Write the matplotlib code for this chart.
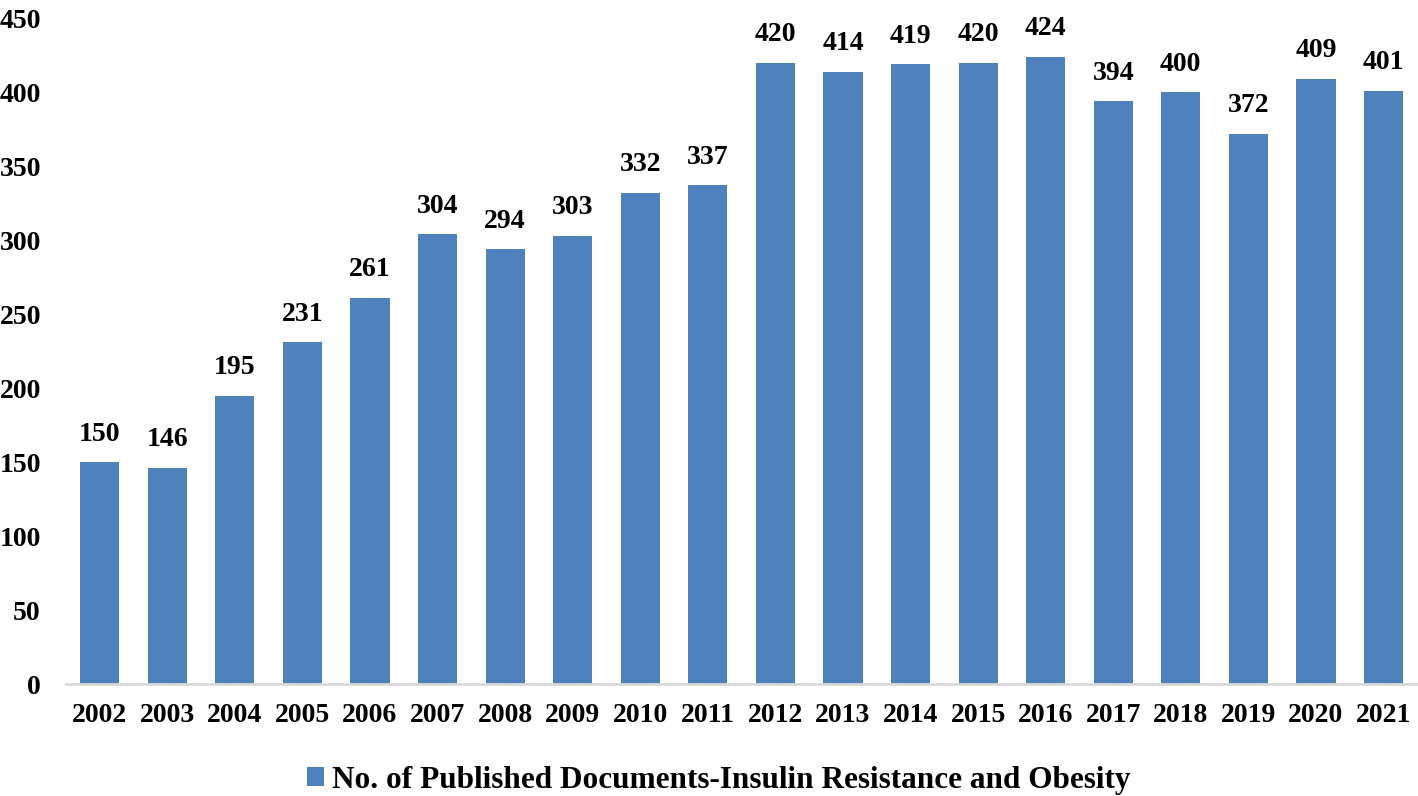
import matplotlib.pyplot as plt

years = ['2002', '2003', '2004', '2005', '2006', '2007', '2008', '2009', '2010', '2011',
         '2012', '2013', '2014', '2015', '2016', '2017', '2018', '2019', '2020', '2021']
documents = [150, 146, 195, 231, 261, 304, 294, 303, 332, 337,
             420, 414, 419, 420, 424, 394, 400, 372, 409, 401]
series_name = 'No. of Published Documents-Insulin Resistance and Obesity'

plt.rcParams['font.family'] = ['Liberation Serif', 'DejaVu Serif']
plt.rcParams['font.weight'] = 'bold'

fig = plt.figure(figsize=(14.18, 7.96), dpi=100)
ax = fig.add_axes([0.0465, 0.1407, 0.953, 0.8363])

x = range(len(years))
bars = ax.bar(x, documents, width=0.58, color='#4F81BD', label=series_name)

# value labels on top of bars
for xi, v in zip(x, documents):
    ax.text(xi, v + 10.5, str(v), ha='center', va='bottom', fontsize=20, fontweight='bold')

ax.set_xlim(-0.5, len(years) - 0.5)
ax.set_ylim(0, 450)
ax.set_yticks(range(0, 451, 50))
ax.set_xticks(list(x))
ax.set_xticklabels(years)
ax.tick_params(axis='both', length=0, labelsize=20)
ax.tick_params(axis='x', pad=14)
ax.tick_params(axis='y', pad=18)

for side in ['top', 'right', 'left']:
    ax.spines[side].set_visible(False)
ax.spines['bottom'].set_color('#D9D9D9')
ax.spines['bottom'].set_linewidth(2)

fig.legend(handles=[bars], labels=[series_name], loc='center', bbox_to_anchor=(0.507, 0.02),
           frameon=False, fontsize=22.5, handlelength=0.55, handleheight=0.55, handletextpad=0.25)

fig.savefig('out.png', dpi=100)
